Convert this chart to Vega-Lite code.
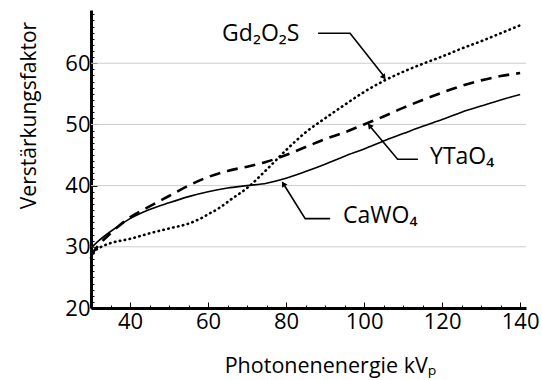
{
  "$schema": "https://vega.github.io/schema/vega-lite/v6.json",
  "autosize": "none",
  "width": 435,
  "height": 298,
  "padding": {"left": 91, "top": 10, "right": 16, "bottom": 72},
  "background": "white",
  "config": {
    "view": {"stroke": null},
    "font": "Open Sans",
    "axis": {"labelFont": "Open Sans", "titleFont": "Open Sans", "labelColor": "black", "titleColor": "black", "titleFontWeight": "normal"}
  },
  "resolve": {"axis": {"x": "independent", "y": "independent"}},
  "datasets": {
    "curves": [
      {"series": "CaWO4", "kVp": 30, "faktor": 29.8},
      {"series": "CaWO4", "kVp": 32, "faktor": 31.0},
      {"series": "CaWO4", "kVp": 35, "faktor": 32.5},
      {"series": "CaWO4", "kVp": 40, "faktor": 34.6},
      {"series": "CaWO4", "kVp": 45, "faktor": 36.1},
      {"series": "CaWO4", "kVp": 50, "faktor": 37.2},
      {"series": "CaWO4", "kVp": 55, "faktor": 38.2},
      {"series": "CaWO4", "kVp": 60, "faktor": 39.0},
      {"series": "CaWO4", "kVp": 65, "faktor": 39.6},
      {"series": "CaWO4", "kVp": 70, "faktor": 40.0},
      {"series": "CaWO4", "kVp": 75, "faktor": 40.4},
      {"series": "CaWO4", "kVp": 80, "faktor": 41.2},
      {"series": "CaWO4", "kVp": 85, "faktor": 42.3},
      {"series": "CaWO4", "kVp": 90, "faktor": 43.5},
      {"series": "CaWO4", "kVp": 95, "faktor": 44.8},
      {"series": "CaWO4", "kVp": 100, "faktor": 46.0},
      {"series": "CaWO4", "kVp": 105, "faktor": 47.3},
      {"series": "CaWO4", "kVp": 110, "faktor": 48.5},
      {"series": "CaWO4", "kVp": 115, "faktor": 49.7},
      {"series": "CaWO4", "kVp": 120, "faktor": 50.8},
      {"series": "CaWO4", "kVp": 125, "faktor": 52.0},
      {"series": "CaWO4", "kVp": 130, "faktor": 53.0},
      {"series": "CaWO4", "kVp": 135, "faktor": 54.0},
      {"series": "CaWO4", "kVp": 140, "faktor": 54.9},
      {"series": "YTaO4", "kVp": 30, "faktor": 28.7},
      {"series": "YTaO4", "kVp": 32, "faktor": 30.3},
      {"series": "YTaO4", "kVp": 35, "faktor": 32.2},
      {"series": "YTaO4", "kVp": 40, "faktor": 34.8},
      {"series": "YTaO4", "kVp": 45, "faktor": 36.6},
      {"series": "YTaO4", "kVp": 50, "faktor": 38.3},
      {"series": "YTaO4", "kVp": 55, "faktor": 40.0},
      {"series": "YTaO4", "kVp": 60, "faktor": 41.4},
      {"series": "YTaO4", "kVp": 65, "faktor": 42.4},
      {"series": "YTaO4", "kVp": 70, "faktor": 43.1},
      {"series": "YTaO4", "kVp": 75, "faktor": 43.9},
      {"series": "YTaO4", "kVp": 80, "faktor": 45.0},
      {"series": "YTaO4", "kVp": 85, "faktor": 46.3},
      {"series": "YTaO4", "kVp": 90, "faktor": 47.6},
      {"series": "YTaO4", "kVp": 95, "faktor": 48.7},
      {"series": "YTaO4", "kVp": 100, "faktor": 50.0},
      {"series": "YTaO4", "kVp": 105, "faktor": 51.3},
      {"series": "YTaO4", "kVp": 110, "faktor": 52.7},
      {"series": "YTaO4", "kVp": 115, "faktor": 54.0},
      {"series": "YTaO4", "kVp": 120, "faktor": 55.2},
      {"series": "YTaO4", "kVp": 125, "faktor": 56.3},
      {"series": "YTaO4", "kVp": 130, "faktor": 57.2},
      {"series": "YTaO4", "kVp": 135, "faktor": 57.9},
      {"series": "YTaO4", "kVp": 140, "faktor": 58.4},
      {"series": "Gd2O2S", "kVp": 30, "faktor": 28.2},
      {"series": "Gd2O2S", "kVp": 31, "faktor": 29.3},
      {"series": "Gd2O2S", "kVp": 33, "faktor": 30.1},
      {"series": "Gd2O2S", "kVp": 35, "faktor": 30.6},
      {"series": "Gd2O2S", "kVp": 40, "faktor": 31.3},
      {"series": "Gd2O2S", "kVp": 45, "faktor": 32.2},
      {"series": "Gd2O2S", "kVp": 50, "faktor": 33.0},
      {"series": "Gd2O2S", "kVp": 55, "faktor": 33.8},
      {"series": "Gd2O2S", "kVp": 58, "faktor": 34.6},
      {"series": "Gd2O2S", "kVp": 60, "faktor": 35.3},
      {"series": "Gd2O2S", "kVp": 63, "faktor": 36.4},
      {"series": "Gd2O2S", "kVp": 66, "faktor": 37.8},
      {"series": "Gd2O2S", "kVp": 70, "faktor": 39.6},
      {"series": "Gd2O2S", "kVp": 75, "faktor": 42.6},
      {"series": "Gd2O2S", "kVp": 80, "faktor": 45.8},
      {"series": "Gd2O2S", "kVp": 85, "faktor": 48.7},
      {"series": "Gd2O2S", "kVp": 90, "faktor": 51.0},
      {"series": "Gd2O2S", "kVp": 95, "faktor": 53.2},
      {"series": "Gd2O2S", "kVp": 100, "faktor": 55.3},
      {"series": "Gd2O2S", "kVp": 105, "faktor": 57.1},
      {"series": "Gd2O2S", "kVp": 110, "faktor": 58.6},
      {"series": "Gd2O2S", "kVp": 115, "faktor": 59.9},
      {"series": "Gd2O2S", "kVp": 120, "faktor": 61.1},
      {"series": "Gd2O2S", "kVp": 125, "faktor": 62.4},
      {"series": "Gd2O2S", "kVp": 130, "faktor": 63.6},
      {"series": "Gd2O2S", "kVp": 135, "faktor": 64.9},
      {"series": "Gd2O2S", "kVp": 140, "faktor": 66.2}
    ],
    "gridlines": [
      {"faktor": 30}, {"faktor": 40}, {"faktor": 50}, {"faktor": 60}
    ],
    "leaders": [
      {"series": "Gd2O2S", "step": 1, "kVp": 88.2, "faktor": 64.9},
      {"series": "Gd2O2S", "step": 2, "kVp": 96.4, "faktor": 64.9},
      {"series": "Gd2O2S", "step": 3, "kVp": 105.2, "faktor": 57.8},
      {"series": "YTaO4", "step": 1, "kVp": 113.8, "faktor": 44.3},
      {"series": "YTaO4", "step": 2, "kVp": 108.6, "faktor": 44.3},
      {"series": "YTaO4", "step": 3, "kVp": 101.4, "faktor": 49.8},
      {"series": "CaWO4", "step": 1, "kVp": 91.3, "faktor": 34.6},
      {"series": "CaWO4", "step": 2, "kVp": 84.9, "faktor": 34.6},
      {"series": "CaWO4", "step": 3, "kVp": 79.3, "faktor": 40.3}
    ],
    "tips": [
      {"series": "Gd2O2S", "kVp": 105.1, "faktor": 57.7},
      {"series": "YTaO4", "kVp": 101.4, "faktor": 49.8},
      {"series": "CaWO4", "kVp": 79.3, "faktor": 40.3}
    ],
    "labels": [
      {"name": "Gd₂O₂S", "kVp": 63.6, "faktor": 64.7},
      {"name": "YTaO₄", "kVp": 116.9, "faktor": 44.7},
      {"name": "CaWO₄", "kVp": 94.6, "faktor": 35.0}
    ]
  },
  "layer": [
    {
      "data": {"name": "gridlines"},
      "mark": {"type": "rule", "color": "#cccccc", "strokeWidth": 1},
      "encoding": {
        "y": {
          "field": "faktor", "type": "quantitative",
          "scale": {"domain": [20, 68.7], "nice": false, "zero": false},
          "axis": {
            "orient": "left",
            "title": "Verstärkungsfaktor",
            "titleFontSize": 21,
            "titleX": -56, "titleY": 105, "titleAngle": -90, "titleAlign": "center", "titleBaseline": "alphabetic",
            "values": [20, 30, 40, 50, 60],
            "labelFontSize": 22,
            "labelPadding": 7,
            "labelFlush": false,
            "labelOverlap": false,
            "domainColor": "black", "domainWidth": 3,
            "tickColor": "black", "tickWidth": 1,
            "tickSize": -6,
            "grid": false
          }
        }
      }
    },
    {
      "data": {"name": "curves"},
      "transform": [{"filter": "datum.series == 'CaWO4'"}],
      "mark": {"type": "line", "color": "black", "strokeWidth": 1.6, "interpolate": "monotone"},
      "encoding": {
        "x": {
          "field": "kVp", "type": "quantitative",
          "scale": {"domain": [30, 141.5], "nice": false, "zero": false},
          "axis": {
            "orient": "bottom",
            "title": "Photonenenergie kVₚ",
            "titleFontSize": 21.5,
            "titleX": 239, "titleY": 64, "titleAlign": "center", "titleBaseline": "alphabetic",
            "values": [40, 60, 80, 100, 120, 140],
            "labelFontSize": 22,
            "labelPadding": 9,
            "labelFlush": false,
            "labelOverlap": false,
            "domainColor": "black", "domainWidth": 3,
            "tickColor": "black", "tickWidth": 1,
            "tickSize": -6,
            "grid": false
          }
        },
        "y": {
          "field": "faktor", "type": "quantitative",
          "axis": {
            "orient": "left",
            "title": null,
            "values": [21,22,23,24,25,26,27,28,29,31,32,33,34,35,36,37,38,39,41,42,43,44,45,46,47,48,49,51,52,53,54,55,56,57,58,59,61,62,63,64,65,66,67,68],
            "labels": false,
            "domain": false,
            "grid": false,
            "tickColor": "black", "tickWidth": 1,
            "tickSize": -3
          }
        }
      }
    },
    {
      "data": {"name": "curves"},
      "transform": [{"filter": "datum.series == 'YTaO4'"}],
      "mark": {"type": "line", "color": "black", "strokeWidth": 2.6, "strokeDash": [11, 7], "interpolate": "monotone"},
      "encoding": {
        "x": {
          "field": "kVp", "type": "quantitative",
          "axis": {
            "orient": "bottom",
            "title": null,
            "values": [30,35,45,50,55,65,70,75,85,90,95,105,110,115,125,130,135],
            "labels": false,
            "domain": false,
            "grid": false,
            "tickColor": "black", "tickWidth": 1,
            "tickSize": -3
          }
        },
        "y": {"field": "faktor", "type": "quantitative", "axis": null}
      }
    },
    {
      "data": {"name": "curves"},
      "transform": [{"filter": "datum.series == 'Gd2O2S'"}],
      "mark": {"type": "line", "color": "black", "strokeWidth": 2.6, "strokeDash": [0.5, 4.5], "strokeCap": "round", "interpolate": "monotone"},
      "encoding": {
        "x": {"field": "kVp", "type": "quantitative", "axis": null},
        "y": {"field": "faktor", "type": "quantitative", "axis": null}
      }
    },
    {
      "data": {"name": "leaders"},
      "mark": {"type": "line", "color": "black", "strokeWidth": 1.6},
      "encoding": {
        "x": {"field": "kVp", "type": "quantitative", "axis": null},
        "y": {"field": "faktor", "type": "quantitative", "axis": null},
        "detail": {"field": "series"},
        "order": {"field": "step"}
      }
    },
    {
      "data": {"name": "tips"},
      "transform": [{"filter": "datum.series == 'Gd2O2S'"}],
      "mark": {"type": "point", "shape": "triangle-up", "filled": true, "color": "black", "size": 40, "angle": 142.6, "opacity": 1},
      "encoding": {
        "x": {"field": "kVp", "type": "quantitative", "axis": null},
        "y": {"field": "faktor", "type": "quantitative", "axis": null}
      }
    },
    {
      "data": {"name": "tips"},
      "transform": [{"filter": "datum.series == 'YTaO4'"}],
      "mark": {"type": "point", "shape": "triangle-up", "filled": true, "color": "black", "size": 40, "angle": 320, "opacity": 1},
      "encoding": {
        "x": {"field": "kVp", "type": "quantitative", "axis": null},
        "y": {"field": "faktor", "type": "quantitative", "axis": null}
      }
    },
    {
      "data": {"name": "tips"},
      "transform": [{"filter": "datum.series == 'CaWO4'"}],
      "mark": {"type": "point", "shape": "triangle-up", "filled": true, "color": "black", "size": 40, "angle": 328, "opacity": 1},
      "encoding": {
        "x": {"field": "kVp", "type": "quantitative", "axis": null},
        "y": {"field": "faktor", "type": "quantitative", "axis": null}
      }
    },
    {
      "data": {"name": "labels"},
      "mark": {"type": "text", "align": "left", "baseline": "middle", "font": "Open Sans", "fontSize": 23, "color": "black"},
      "encoding": {
        "x": {"field": "kVp", "type": "quantitative", "axis": null},
        "y": {"field": "faktor", "type": "quantitative", "axis": null},
        "text": {"field": "name"}
      }
    }
  ]
}
